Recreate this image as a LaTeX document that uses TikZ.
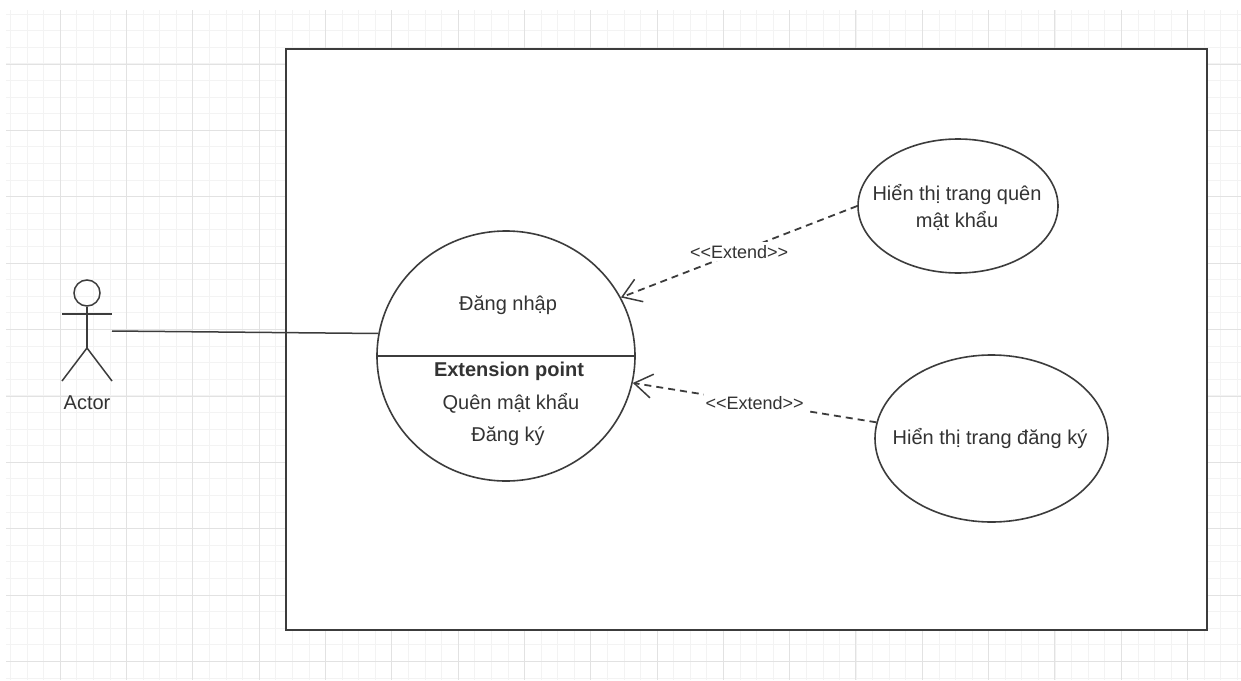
\documentclass[tikz,border=0pt]{standalone}
\usepackage{fontspec}
\setmainfont{Liberation Sans}
\usetikzlibrary{arrows.meta,shapes.geometric,positioning}
\definecolor{gridMinor}{HTML}{F3F3F3}
\definecolor{gridMajor}{HTML}{E2E2E2}
\definecolor{umlLine}{HTML}{3C3C3C}
\definecolor{umlText}{HTML}{333333}
\newcommand{\umlFont}{\fontsize{20}{27}\selectfont}
\newcommand{\extendFont}{\fontsize{18}{22}\selectfont}
\tikzset{
	usecase/.style={draw=umlLine, line width=1.6pt, ellipse, fill=white, inner sep=0pt},
	systembox/.style={draw=umlLine, line width=2.4pt, fill=white, inner sep=0pt, minimum width=921pt, minimum height=581pt},
	label/.style={text=umlText, font=\umlFont, inner sep=1pt, align=center},
	extendlabel/.style={text=umlText, font=\extendFont, inner xsep=2pt, inner ysep=3pt, fill=white},
	extendline/.style={draw=umlLine, line width=1.8pt, dash pattern=on 7pt off 5pt, -{Straight Barb[length=18pt,width=24pt,line width=1.5pt]}},
	actorline/.style={draw=umlLine, line width=1.5pt}
}

\begin{document}
\begin{tikzpicture}[x=1pt, y=-1pt]
		\useasboundingbox[fill=white] (0,0) rectangle (1241,680);
		%grid
		\foreach \i in {0,...,74} {
			\draw[gridMinor, line width=0.8pt] ({10.5+16.58*\i},10) -- ({10.5+16.58*\i},680);
		}
		\foreach \i in {0,...,40} {
			\draw[gridMinor, line width=0.8pt] (6,{14+16.6*\i}) -- (1241,{14+16.6*\i});
		}
		\foreach \i in {0,...,18} {
			\draw[gridMajor, line width=0.8pt] ({60.2+66.3*\i},10) -- ({60.2+66.3*\i},680);
		}
		\foreach \i in {0,...,9} {
			\draw[gridMajor, line width=0.8pt] (6,{64+66.4*\i}) -- (1241,{64+66.4*\i});
		}
		%system
		\node[systembox] (system) at (746.5,339.5) {};
		%use cases
		\node[usecase, minimum width=258pt, minimum height=250pt] (dangnhap) at (506,356) {};
		\node[usecase, minimum width=200pt, minimum height=134pt] (quenmatkhau) at (958,206) {};
		\node[usecase, minimum width=233pt, minimum height=167pt] (dangky) at (991.5,438.5) {};
		\node[label] (quenmatkhautext) at (957,207) {Hiển thị trang quên\\mật khẩu};
		\node[label] (dangkytext) at (990,438) {Hiển thị trang đăng ký};
		\draw[actorline] (dangnhap.west) -- (dangnhap.east);
		\node[label] (title) at (508,305) {Đăng nhập};
		\node[label, font=\umlFont\bfseries] (extension) at (509,371) {Extension point};
		\node[label] (quen) at (511,403) {Quên mật khẩu};
		\node[label] (dangkypoint) at (508,436) {Đăng ký};
		%actor
		\node[circle, draw=umlLine, line width=1.5pt, minimum size=26pt, inner sep=0pt] (head) at (87,293) {};
		\coordinate (hip) at (87,348);
		\coordinate (armleft) at (62,314);
		\coordinate (armright) at (112,314);
		\coordinate (legleft) at (62,381);
		\coordinate (legright) at (112,381);
		\coordinate (hand) at (112,331);
		\draw[actorline] (head) -- (hip);
		\draw[actorline] (armleft) -- (armright);
		\draw[actorline] (legleft) -- (hip) -- (legright);
		\node[label] (actor) at (87,403) {Actor};
		\draw[actorline] (hand) -- (dangnhap.170);
		%extend
		\draw[extendline] (quenmatkhau.west) -- (dangnhap.27) node[midway, extendlabel] (extendtop) {<{}<Extend>{}>};
		\draw[extendline] (dangky.172) -- (dangnhap.-12) node[midway, extendlabel] (extendbottom) {<{}<Extend>{}>};
	\end{tikzpicture}
\end{document}
